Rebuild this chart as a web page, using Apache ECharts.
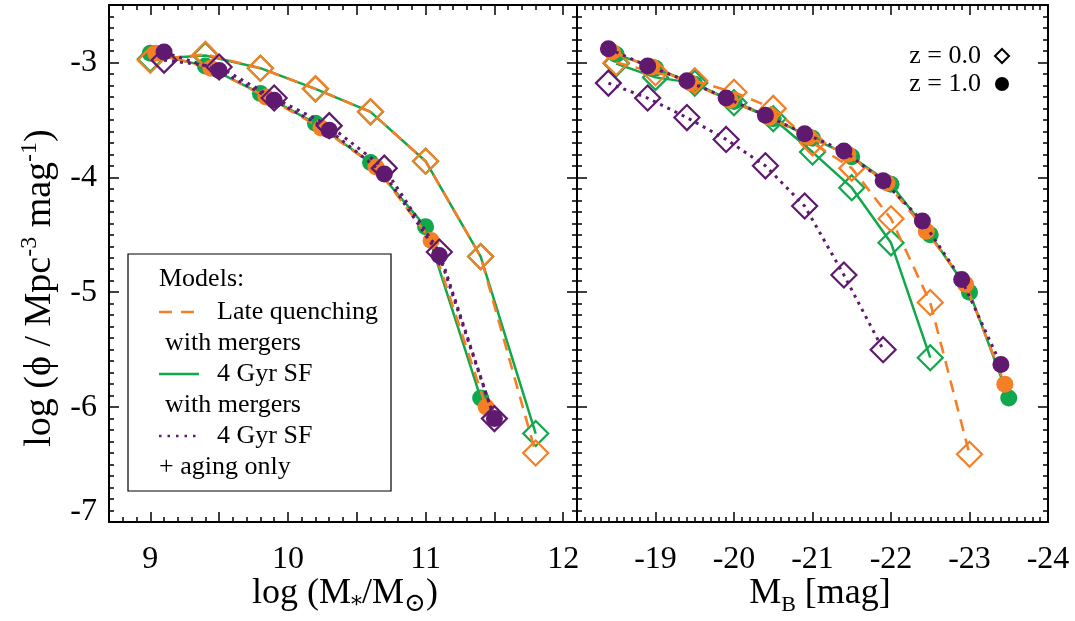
<!DOCTYPE html>
<html><head><meta charset="utf-8">
<script src="https://cdn.jsdelivr.net/npm/echarts@6/dist/echarts.min.js"></script>
<style>html,body{margin:0;padding:0;background:#fff}#c{width:1075px;height:621px}</style>
</head><body><div id="c"></div>
<script>
// ---------- Left panel: log (M*/Msun) ----------
const massDiamonds = [9.0, 9.4, 9.8, 10.2, 10.6, 11.0, 11.4, 11.8];
const massGreenZ0 = [-2.97, -2.94, -3.05, -3.23, -3.43, -3.86, -4.69, -6.23];
const massOrangeZ0 = [-2.98, -2.93, -3.05, -3.23, -3.43, -3.86, -4.69, -6.40];
const massPurpleX = [9.1, 9.5, 9.9, 10.3, 10.7, 11.1, 11.5];
const massPurpleZ0 = [-2.98, -3.04, -3.31, -3.55, -3.92, -4.65, -6.10];
const massGreenX1 = [9.0, 9.4, 9.8, 10.2, 10.6, 11.0, 11.4];
const massGreenZ1 = [-2.92, -3.03, -3.27, -3.53, -3.87, -4.43, -5.92];
const massOrangeX1 = [9.04, 9.44, 9.84, 10.24, 10.64, 11.04, 11.44];
const massOrangeZ1 = [-2.92, -3.05, -3.30, -3.57, -3.91, -4.55, -6.00];
const massPurpleZ1 = [-2.91, -3.07, -3.33, -3.59, -3.97, -4.68, -6.10];

// ---------- Right panel: M_B ----------
const magGreenX0 = [-18.5, -19.0, -19.5, -20.0, -20.5, -21.0, -21.5, -22.0, -22.5];
const magGreenZ0 = [-3.01, -3.13, -3.18, -3.35, -3.49, -3.78, -4.09, -4.57, -5.57];
const magOrangeX0 = [-18.5, -19.0, -19.5, -20.0, -20.5, -21.0, -21.5, -22.0, -22.5, -23.0];
const magOrangeZ0 = [-3.00, -3.09, -3.16, -3.26, -3.40, -3.70, -3.92, -4.36, -5.09, -6.41];
const magPurpleX0 = [-18.4, -18.9, -19.4, -19.9, -20.4, -20.9, -21.4, -21.9];
const magPurpleZ0 = [-3.18, -3.31, -3.48, -3.67, -3.90, -4.25, -4.85, -5.50];
const magGreenX1 = [-18.5, -19.0, -19.5, -20.0, -20.5, -21.0, -21.5, -22.0, -22.5, -23.0, -23.5];
const magGreenZ1 = [-2.93, -3.05, -3.19, -3.34, -3.49, -3.66, -3.82, -4.06, -4.50, -5.00, -5.92];
const magOrangeX1 = [-18.45, -18.95, -19.45, -19.95, -20.45, -20.95, -21.45, -21.95, -22.45, -22.95, -23.45];
const magOrangeZ1 = [-2.91, -3.04, -3.18, -3.33, -3.48, -3.65, -3.80, -4.05, -4.47, -4.93, -5.80];
const magPurpleX1 = [-18.4, -18.9, -19.4, -19.9, -20.4, -20.9, -21.4, -21.9, -22.4, -22.9, -23.4];
const magPurpleZ1 = [-2.88, -3.03, -3.16, -3.31, -3.46, -3.62, -3.77, -4.03, -4.38, -4.89, -5.63];

// ---------- Tick labels ----------
const massTickLabels = [9, 10, 11, 12];
const massMajorTicks = [9, 9.5, 10, 10.5, 11, 11.5, 12];
const magTickLabels = [-19, -20, -21, -22, -23, -24];
const magMajorTicks = [-19, -20, -21, -22, -23];
const phiTickLabels = [-7, -6, -5, -4, -3];

const GREEN = '#10a84c', ORANGE = '#f57f25', PURPLE = '#5f1a70';
const FONT = 'Liberation Serif, Times New Roman, serif';

const zip = (xs, ys) => xs.map((x, i) => [x, ys[i]]);

function xAxes(grid, min, max, inverse, major, labels) {
  const base = {gridIndex: grid, type: 'value', min, max, inverse, splitLine: {show: false}};
  return [
    Object.assign({}, base, {position: 'bottom',
      axisLine: {show: true, onZero: false, lineStyle: {color: '#000', width: 2}},
      axisTick: {show: true, inside: true, length: 10, customValues: major, lineStyle: {color: '#000', width: 1.5}},
      axisLabel: {show: true, customValues: labels, margin: 22, color: '#000', fontFamily: FONT, fontSize: 32}}),
    Object.assign({}, base, {position: 'bottom', interval: 0.1,
      axisLine: {show: false}, axisLabel: {show: false},
      axisTick: {show: true, inside: true, length: 5, lineStyle: {color: '#000', width: 1.5}}}),
    Object.assign({}, base, {position: 'top',
      axisLine: {show: true, onZero: false, lineStyle: {color: '#000', width: 2}},
      axisTick: {show: true, inside: true, length: 10, customValues: major, lineStyle: {color: '#000', width: 1.5}},
      axisLabel: {show: false}}),
    Object.assign({}, base, {position: 'top', interval: 0.1,
      axisLine: {show: false}, axisLabel: {show: false},
      axisTick: {show: true, inside: true, length: 5, lineStyle: {color: '#000', width: 1.5}}})
  ];
}
function yAxes(grid, showLabels) {
  const base = {gridIndex: grid, type: 'value', min: -7, max: -2.5, splitLine: {show: false}};
  return [
    Object.assign({}, base, {position: 'left',
      axisLine: {show: true, onZero: false, lineStyle: {color: '#000', width: 2}},
      axisTick: {show: true, inside: true, length: 10, customValues: phiTickLabels, lineStyle: {color: '#000', width: 1.5}},
      axisLabel: {show: showLabels, customValues: phiTickLabels, margin: 12, color: '#000',
        formatter: v => v === -7 ? '{b|-7}' : '{a|' + v + '}',
        rich: {a: {fontFamily: FONT, fontSize: 32, color: '#000'},
               b: {fontFamily: FONT, fontSize: 32, color: '#000', padding: [0, 0, 20, 0]}}}}),
    Object.assign({}, base, {position: 'left', interval: 0.1,
      axisLine: {show: false}, axisLabel: {show: false},
      axisTick: {show: true, inside: true, length: 5, lineStyle: {color: '#000', width: 1.5}}}),
    Object.assign({}, base, {position: 'right',
      axisLine: {show: true, onZero: false, lineStyle: {color: '#000', width: 2}},
      axisTick: {show: true, inside: true, length: 10, customValues: phiTickLabels, lineStyle: {color: '#000', width: 1.5}},
      axisLabel: {show: false}}),
    Object.assign({}, base, {position: 'right', interval: 0.1,
      axisLine: {show: false}, axisLabel: {show: false},
      axisTick: {show: true, inside: true, length: 5, lineStyle: {color: '#000', width: 1.5}}})
  ];
}

const lineStyles = {
  green: {color: GREEN, width: 2.5, type: 'solid'},
  orange: {color: ORANGE, width: 2.6, type: [12, 8]},
  purple: {color: PURPLE, width: 3, type: [3, 5]}
};
const colors = {green: GREEN, orange: ORANGE, purple: PURPLE};

function ser(grid, data, col, hollow, z) {
  return {
    type: 'line', xAxisIndex: grid * 4, yAxisIndex: grid * 4, data, z,
    symbol: hollow ? 'diamond' : 'circle',
    symbolSize: hollow ? 25 : 17,
    showAllSymbol: true,
    lineStyle: lineStyles[col],
    itemStyle: hollow ? {color: 'rgba(0,0,0,0)', borderColor: colors[col], borderWidth: 2.2}
                      : {color: colors[col], borderWidth: 0},
    emphasis: {disabled: true}, silent: true
  };
}

const series = [
  ser(0, zip(massDiamonds, massGreenZ0), 'green', true, 2),
  ser(0, zip(massGreenX1, massGreenZ1), 'green', false, 3),
  ser(0, zip(massDiamonds, massOrangeZ0), 'orange', true, 4),
  ser(0, zip(massOrangeX1, massOrangeZ1), 'orange', false, 5),
  ser(0, zip(massPurpleX, massPurpleZ1), 'purple', false, 6),
  ser(0, zip(massPurpleX, massPurpleZ0), 'purple', true, 7),
  ser(1, zip(magGreenX0, magGreenZ0), 'green', true, 2),
  ser(1, zip(magGreenX1, magGreenZ1), 'green', false, 3),
  ser(1, zip(magOrangeX0, magOrangeZ0), 'orange', true, 4),
  ser(1, zip(magOrangeX1, magOrangeZ1), 'orange', false, 5),
  ser(1, zip(magPurpleX1, magPurpleZ1), 'purple', false, 6),
  ser(1, zip(magPurpleX0, magPurpleZ0), 'purple', true, 7)
];

const txt = (x, y, text, size, align) => ({type: 'text', x, y, z: 100,
  style: {text, fontFamily: FONT, fontSize: size, fill: '#000', align: align || 'left', verticalAlign: 'middle'}});

const graphic = [
  {type: 'rect', shape: {x: 128, y: 254, width: 263, height: 237}, z: 90,
   style: {fill: '#fff', stroke: '#000', lineWidth: 1.2}},
  txt(159, 279, 'Models:', 26),
  {type: 'line', z: 100, shape: {x1: 159, y1: 312, x2: 199, y2: 312},
   style: {stroke: ORANGE, lineWidth: 2.5, lineDash: [13, 9]}},
  txt(217, 312, 'Late quenching', 26),
  txt(165, 343, 'with mergers', 26),
  {type: 'line', z: 100, shape: {x1: 159, y1: 374, x2: 199, y2: 374},
   style: {stroke: GREEN, lineWidth: 2.5}},
  txt(217, 374, '4 Gyr SF', 26),
  txt(165, 405, 'with mergers', 26),
  {type: 'line', z: 100, shape: {x1: 159, y1: 436, x2: 199, y2: 436},
   style: {stroke: PURPLE, lineWidth: 2.5, lineDash: [2.5, 6]}},
  txt(217, 436, '4 Gyr SF', 26),
  txt(159, 467, '+ aging only', 26),
  txt(981, 56, 'z = 0.0', 26, 'right'),
  txt(981, 84, 'z = 1.0', 26, 'right'),
  {type: 'polygon', z: 100, shape: {points: [[1002, 49], [1009, 56], [1002, 63], [995, 56]]},
   style: {fill: 'none', stroke: '#000', lineWidth: 2}},
  {type: 'circle', z: 100, shape: {cx: 1002, cy: 84, r: 7}, style: {fill: '#000'}},
  {type: 'text', x: 40, y: 288, rotation: Math.PI / 2, z: 100,
   style: {text: '{n|log (ϕ / Mpc}{s|-3}{n| mag}{s|-1}{n|)}', align: 'center', verticalAlign: 'middle',
     rich: {n: {fontFamily: FONT, fontSize: 38, fill: '#000', lineHeight: 44},
            s: {fontFamily: FONT, fontSize: 24, fill: '#000', verticalAlign: 'top', lineHeight: 44}}}},
  {type: 'text', x: 345, y: 594, z: 100,
   style: {text: '{n|log (M}{s|*}{n|/M}{o|⊙}{n|)}', align: 'center', verticalAlign: 'middle',
     rich: {n: {fontFamily: FONT, fontSize: 36, fill: '#000', lineHeight: 44},
            s: {fontFamily: 'DejaVu Serif', fontSize: 22, fill: '#000', verticalAlign: 'bottom', lineHeight: 44},
            o: {fontFamily: 'DejaVu Serif', fontSize: 26, fill: '#000', verticalAlign: 'bottom', lineHeight: 46}}}},
  {type: 'text', x: 820, y: 594, z: 100,
   style: {text: '{n|M}{s|B}{n| [mag]}', align: 'center', verticalAlign: 'middle',
     rich: {n: {fontFamily: FONT, fontSize: 36, fill: '#000', lineHeight: 44},
            s: {fontFamily: FONT, fontSize: 22, fill: '#000', verticalAlign: 'bottom', lineHeight: 40}}}}
];

const chart = echarts.init(document.getElementById('c'), null, {renderer: 'canvas'});
chart.setOption({
  animation: false,
  backgroundColor: '#fff',
  grid: [
    {left: 109, top: 5, width: 468, height: 517},
    {left: 577, top: 5, width: 471, height: 517}
  ],
  xAxis: [].concat(
    xAxes(0, 8.7, 12.1, false, massMajorTicks, massTickLabels),
    xAxes(1, -24, -18, true, magMajorTicks, magTickLabels)
  ),
  yAxis: [].concat(yAxes(0, true), yAxes(1, false)),
  series,
  graphic
});
</script>
</body></html>
